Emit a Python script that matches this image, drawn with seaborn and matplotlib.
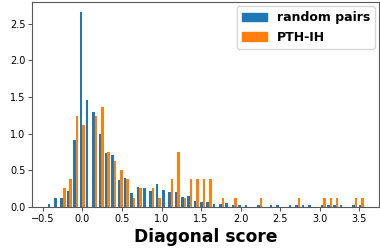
import numpy as np
import pandas as pd
import seaborn as sns
import matplotlib
matplotlib.use("Agg")
import matplotlib.pyplot as plt
from matplotlib.patches import Patch

# histogram binning (50 bins)
bin_lo = -0.447
bin_hi = 3.568
n_bins = 50

# density per bin, left to right
random_pairs = [0.03, 0.125, 0.12, 0.22, 0.91, 2.66, 1.46, 1.29, 1.00, 0.73,
                0.70, 0.365, 0.39, 0.18, 0.27, 0.26, 0.215, 0.306, 0.224, 0.20,
                0.20, 0.128, 0.146, 0.078, 0.068, 0.068, 0.037, 0.037, 0.05, 0.025,
                0.018, 0.018, 0.0, 0.025, 0.0, 0.018, 0.018, 0.0, 0.018, 0.018,
                0.018, 0.018, 0.0, 0.018, 0.018, 0.018, 0.018, 0.0, 0.018, 0.018]
pth_ih = [0.0, 0.0, 0.249, 0.374, 1.245, 1.12, 0.0, 1.245, 1.37, 0.747,
          0.623, 0.498, 0.374, 0.125, 0.249, 0.0, 0.249, 0.125, 0.0, 0.374,
          0.747, 0.125, 0.374, 0.374, 0.374, 0.374, 0.0, 0.125, 0.0, 0.125,
          0.0, 0.0, 0.0, 0.125, 0.0, 0.0, 0.0, 0.0, 0.0, 0.125,
          0.0, 0.0, 0.0, 0.125, 0.125, 0.125, 0.0, 0.0, 0.125, 0.125]

series_names = ["random pairs", "PTH-IH"]
colors = ["#1f77b4", "#ff7f0e"]

edges = np.linspace(bin_lo, bin_hi, n_bins + 1)
centers = (edges[:-1] + edges[1:]) / 2

df = pd.concat([
    pd.DataFrame({"score": centers, "density": random_pairs, "series": series_names[0]}),
    pd.DataFrame({"score": centers, "density": pth_ih, "series": series_names[1]}),
])

fig, ax = plt.subplots(figsize=(3.8, 2.52), dpi=100)
fig.subplots_adjust(left=0.085, right=0.998, top=0.992, bottom=0.18)

sns.histplot(data=df, x="score", weights="density", hue="series",
             hue_order=series_names, palette=colors,
             bins=n_bins, binrange=(bin_lo, bin_hi),
             multiple="dodge", shrink=0.8, stat="count", alpha=1,
             linewidth=0, legend=False, ax=ax)

ax.set_xlim(-0.635, 3.755)
ax.set_ylim(0, 2.8)
ax.set_xticks(np.arange(-0.5, 3.51, 0.5))
ax.set_ylabel("")
ax.set_xlabel("Diagonal score", fontsize=12.3, fontweight="bold", labelpad=3)
ax.tick_params(labelsize=7, length=3, width=0.7, pad=2, color="0.3")
for s in ax.spines.values():
    s.set_linewidth(0.8)
    s.set_color("0.35")

handles = [Patch(color=c) for c in colors]
ax.legend(handles, series_names, loc="upper right",
          prop={"weight": "bold", "size": 9}, borderaxespad=0.35)

fig.savefig("out.png", dpi=100)
